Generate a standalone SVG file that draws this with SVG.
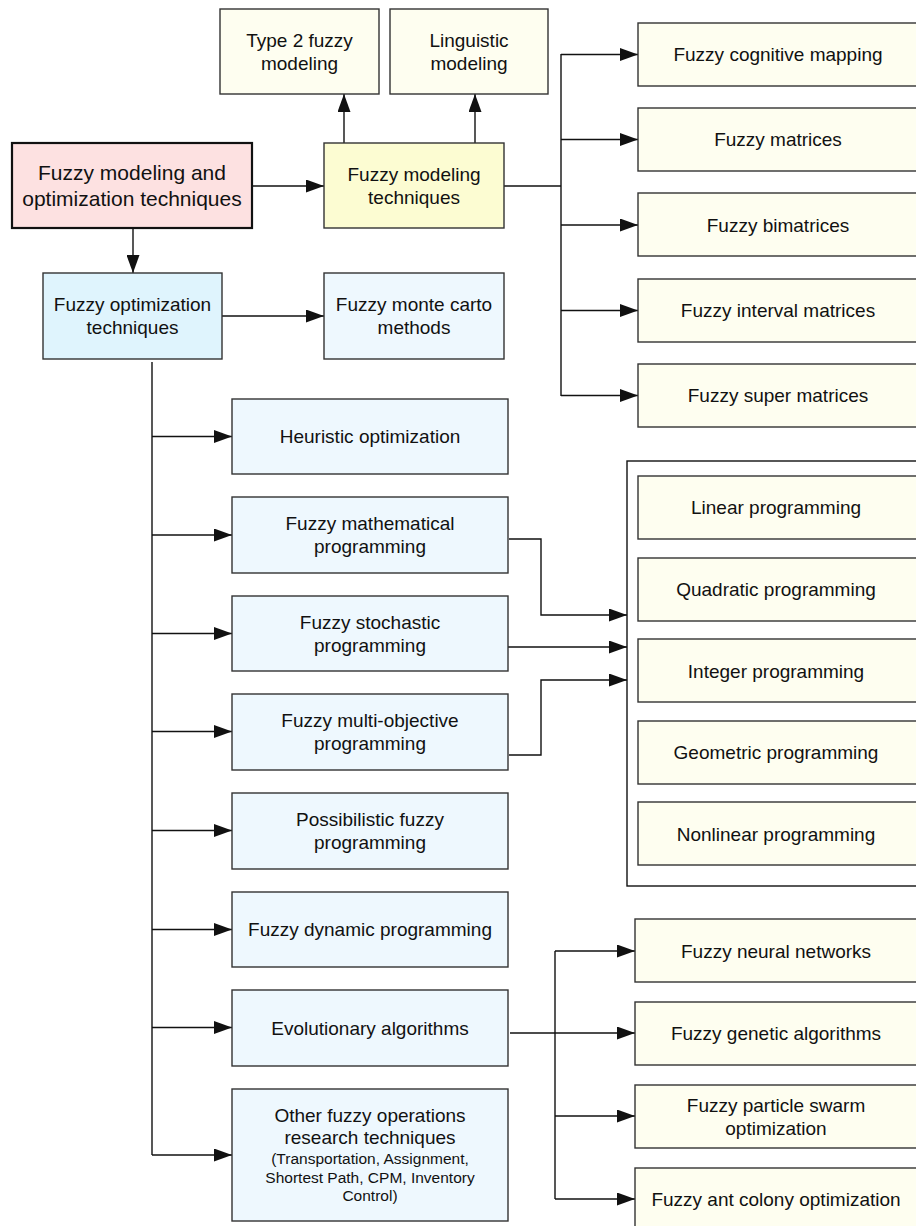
<svg xmlns="http://www.w3.org/2000/svg" width="916" height="1226" viewBox="0 0 916 1226">
<style>
text{font-family:"Liberation Sans",Arial,sans-serif;fill:#111;text-anchor:middle}
.t{font-size:19px}
.big{font-size:21px}
.sm{font-size:15.5px}
.box{stroke:#333;stroke-width:1.4}
.cream{fill:#fefef0}
.yel{fill:#fcfcd2}
.blue{fill:#eef8fe}
.blue2{fill:#dff4fd}
.pink{fill:#fde1e1;stroke:#111;stroke-width:2.2}
.ln{fill:none;stroke:#111;stroke-width:1.4}
.arr{marker-end:url(#ah)}
</style>
<defs>
<marker id="ah" markerUnits="userSpaceOnUse" markerWidth="18" markerHeight="13" refX="18" refY="6.5" orient="auto">
<path d="M0,0 L18,6.5 L0,13 z" fill="#111"/>
</marker>
</defs>
<rect width="916" height="1226" fill="#fff"/>

<g id="connectors">
<line class="ln arr" x1="252" y1="186" x2="324" y2="186"/>
<line class="ln arr" x1="133" y1="228" x2="133" y2="273"/>
<line class="ln arr" x1="344" y1="143" x2="344" y2="94"/>
<line class="ln arr" x1="475" y1="143" x2="475" y2="94"/>
<polyline class="ln" points="504,186 561,186"/>
<line class="ln" x1="561" y1="54" x2="561" y2="396"/>
<line class="ln arr" x1="561" y1="54.5" x2="638" y2="54.5"/>
<line class="ln arr" x1="561" y1="139.5" x2="638" y2="139.5"/>
<line class="ln arr" x1="561" y1="225" x2="638" y2="225"/>
<line class="ln arr" x1="561" y1="310.5" x2="638" y2="310.5"/>
<line class="ln arr" x1="561" y1="395.5" x2="638" y2="395.5"/>
<line class="ln arr" x1="222" y1="316" x2="324" y2="316"/>
<line class="ln" x1="152" y1="362" x2="152" y2="1155"/>
<line class="ln arr" x1="152" y1="436.5" x2="232" y2="436.5"/>
<line class="ln arr" x1="152" y1="535" x2="232" y2="535"/>
<line class="ln arr" x1="152" y1="633.5" x2="232" y2="633.5"/>
<line class="ln arr" x1="152" y1="731.5" x2="232" y2="731.5"/>
<line class="ln arr" x1="152" y1="830.5" x2="232" y2="830.5"/>
<line class="ln arr" x1="152" y1="929.5" x2="232" y2="929.5"/>
<line class="ln arr" x1="152" y1="1027.5" x2="232" y2="1027.5"/>
<line class="ln arr" x1="152" y1="1155" x2="232" y2="1155"/>
<polyline class="ln arr" points="509,539 541,539 541,615 627,615"/>
<line class="ln arr" x1="508" y1="647" x2="627" y2="647"/>
<polyline class="ln arr" points="509,755 541,755 541,680 627,680"/>
<line class="ln arr" x1="510" y1="1033" x2="635" y2="1033"/>
<line class="ln" x1="555" y1="951" x2="555" y2="1199"/>
<line class="ln arr" x1="555" y1="951" x2="635" y2="951"/>
<line class="ln arr" x1="555" y1="1116" x2="635" y2="1116"/>
<line class="ln arr" x1="555" y1="1199" x2="635" y2="1199"/>
</g>

<g id="root"><rect class="pink" x="12" y="143" width="240" height="85"/>
<text class="big" x="132" y="179.5">Fuzzy modeling and</text>
<text class="big" x="132" y="205.5">optimization techniques</text></g>

<g id="fmt"><rect class="box yel" x="324" y="143" width="180" height="85"/>
<text class="t" x="414" y="180.6">Fuzzy modeling</text>
<text class="t" x="414" y="203.6">techniques</text></g>

<g id="type2"><rect class="box cream" x="220" y="9" width="159" height="85"/>
<text class="t" x="299.5" y="46.6">Type 2 fuzzy</text>
<text class="t" x="299.5" y="69.6">modeling</text></g>

<g id="ling"><rect class="box cream" x="390" y="9" width="158" height="85"/>
<text class="t" x="469" y="46.6">Linguistic</text>
<text class="t" x="469" y="69.6">modeling</text></g>

<g id="fcm"><rect class="box cream" x="638" y="23" width="280" height="63"/>
<text class="t" x="778" y="61">Fuzzy cognitive mapping</text></g>
<g id="fm"><rect class="box cream" x="638" y="108" width="280" height="63"/>
<text class="t" x="778" y="146">Fuzzy matrices</text></g>
<g id="fbm"><rect class="box cream" x="638" y="193" width="280" height="63"/>
<text class="t" x="778" y="231.5">Fuzzy bimatrices</text></g>
<g id="fim"><rect class="box cream" x="638" y="279" width="280" height="63"/>
<text class="t" x="778" y="317">Fuzzy interval matrices</text></g>
<g id="fsm"><rect class="box cream" x="638" y="364" width="280" height="63"/>
<text class="t" x="778" y="402">Fuzzy super matrices</text></g>

<g id="fot"><rect class="box blue2" x="43" y="273" width="179" height="86"/>
<text class="t" x="132.5" y="311">Fuzzy optimization</text>
<text class="t" x="132.5" y="334">techniques</text></g>

<g id="monte"><rect class="box blue" x="324" y="273" width="180" height="86"/>
<text class="t" x="414" y="311">Fuzzy monte carto</text>
<text class="t" x="414" y="334">methods</text></g>

<g id="heur"><rect class="box blue" x="232" y="399" width="276" height="75"/>
<text class="t" x="370" y="443">Heuristic optimization</text></g>
<g id="math"><rect class="box blue" x="232" y="497" width="276" height="76"/>
<text class="t" x="370" y="529.6">Fuzzy mathematical</text>
<text class="t" x="370" y="552.6">programming</text></g>
<g id="stoch"><rect class="box blue" x="232" y="596" width="276" height="75"/>
<text class="t" x="370" y="628.6">Fuzzy stochastic</text>
<text class="t" x="370" y="651.6">programming</text></g>
<g id="multi"><rect class="box blue" x="232" y="694" width="276" height="76"/>
<text class="t" x="370" y="726.6">Fuzzy multi-objective</text>
<text class="t" x="370" y="749.6">programming</text></g>
<g id="poss"><rect class="box blue" x="232" y="793" width="276" height="76"/>
<text class="t" x="370" y="825.6">Possibilistic fuzzy</text>
<text class="t" x="370" y="848.6">programming</text></g>
<g id="dyn"><rect class="box blue" x="232" y="892" width="276" height="75"/>
<text class="t" x="370" y="936">Fuzzy dynamic programming</text></g>
<g id="evo"><rect class="box blue" x="232" y="990" width="276" height="76"/>
<text class="t" x="370" y="1034.5">Evolutionary algorithms</text></g>
<g id="other"><rect class="box blue" x="232" y="1089" width="276" height="132"/>
<text class="t" x="370" y="1121.6">Other fuzzy operations</text>
<text class="t" x="370" y="1143.6">research techniques</text>
<text class="sm" x="370" y="1164.4">(Transportation, Assignment,</text>
<text class="sm" x="370" y="1183.4">Shortest Path, CPM, Inventory</text>
<text class="sm" x="370" y="1201.4">Control)</text></g>

<g id="progGroup"><rect class="ln" x="627" y="461" width="300" height="425" stroke="#333"/></g>
<g id="lin"><rect class="box cream" x="638" y="476" width="280" height="63"/>
<text class="t" x="776" y="514">Linear programming</text></g>
<g id="quad"><rect class="box cream" x="638" y="558" width="280" height="63"/>
<text class="t" x="776" y="596">Quadratic programming</text></g>
<g id="int"><rect class="box cream" x="638" y="639" width="280" height="63"/>
<text class="t" x="776" y="677.5">Integer programming</text></g>
<g id="geo"><rect class="box cream" x="638" y="721" width="280" height="63"/>
<text class="t" x="776" y="759">Geometric programming</text></g>
<g id="nonlin"><rect class="box cream" x="638" y="802" width="280" height="63"/>
<text class="t" x="776" y="840.5">Nonlinear programming</text></g>

<g id="fnn"><rect class="box cream" x="635" y="919" width="283" height="63"/>
<text class="t" x="776" y="957.5">Fuzzy neural networks</text></g>
<g id="fga"><rect class="box cream" x="635" y="1002" width="283" height="63"/>
<text class="t" x="776" y="1040">Fuzzy genetic algorithms</text></g>
<g id="fpso"><rect class="box cream" x="635" y="1085" width="283" height="63"/>
<text class="t" x="776" y="1111.6">Fuzzy particle swarm</text>
<text class="t" x="776" y="1134.6">optimization</text></g>
<g id="faco"><rect class="box cream" x="635" y="1168" width="283" height="63"/>
<text class="t" x="776" y="1206">Fuzzy ant colony optimization</text></g>
</svg>
